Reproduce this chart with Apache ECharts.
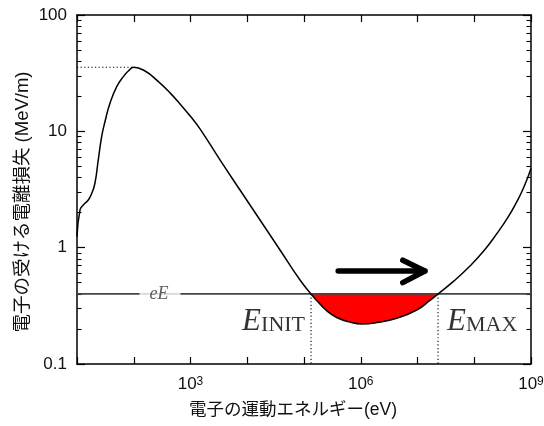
<!DOCTYPE html>
<html>
<head>
<meta charset="utf-8">
<script src="https://cdn.jsdelivr.net/npm/echarts@6/dist/echarts.min.js"></script>
<style>
  html, body { margin: 0; padding: 0; background: #fff; }
  #chart { width: 544px; height: 426px; }
</style>
</head>
<body>
<div id="chart"></div>
<script>
// Electron kinetic energy (eV) and the ionisation loss it suffers (MeV/m)
const energyEV = [10, 11.3, 12.9, 15.8, 18.2, 20.7, 23.7, 27.2, 31.1, 38.1, 50.1, 65.5, 80.2, 100,
  158, 257, 436, 653, 980, 1470, 3310, 7450, 16800, 37800, 85100, 1.33e5, 1.67e5, 2.51e5, 3.77e5,
  6.47e5, 1.04e6, 1.91e6, 4.3e6, 9.69e6, 1.66e7, 2.3e7, 4.4e7, 8.4e7, 1.49e8, 2.5e8, 3.94e8,
  5.66e8, 7.5e8, 1e9];
const lossMeVm = [1.24, 2.11, 2.33, 2.57, 2.94, 3.58, 5.68, 9.0, 12.1, 17.4, 24.2, 29.5, 33.0, 35.6,
  33.0, 27.4, 21.4, 17.2, 13.6, 10.5, 5.68, 3.13, 1.73, 0.955, 0.527, 0.40, 0.352, 0.287, 0.251,
  0.229, 0.221, 0.227, 0.247, 0.291, 0.352, 0.40, 0.518, 0.696, 0.944, 1.32, 1.83,
  2.50, 3.32, 4.8];

// Energy gained from the field per metre (eE) and the two crossing energies
const fieldGain = 0.4;
const eInit = 1.33e5;
const eMax = 2.3e7;

// Peak of the loss curve
const peakEnergy = 100;
const peakLoss = 35.6;

// Axis ticks and labels
const xTickValues = [10, 100, 1e3, 1e4, 1e5, 1e6, 1e7, 1e8, 1e9];
const xLabelValues = [1e3, 1e6, 1e9];
const yMajorValues = [0.1, 1, 10, 100];
const yMinorSteps = [2, 3, 4, 5, 6, 7, 8, 9];

// Arrow showing the direction of acceleration (energy, loss)
const arrowTail = [4.0e5, 0.63];
const arrowTip = [1.35e7, 0.63];
const arrowArmUp = [5.5e6, 0.78];
const arrowArmDown = [5.5e6, 0.50];

const yMinorValues = [];
yMajorValues.slice(0, -1).forEach(d => yMinorSteps.forEach(m => yMinorValues.push(+(d * m).toPrecision(3))));

const curve = energyEV.map((e, i) => [e, lossMeVm[i]]);
const band = curve.filter(p => p[0] >= eInit && p[0] <= eMax);

const xMin = 10, xMax = 1e9, yMin = 0.1, yMax = 100;
const smoothness = 0.5;
const sans = "'Liberation Sans', 'Noto Sans CJK JP', sans-serif";
const serif = "'Liberation Serif', 'DejaVu Serif', serif";
const frame = { show: true, onZero: false, lineStyle: { color: '#000', width: 1.5 } };
const dotted = { color: '#000', width: 1.1, type: [1.2, 2.4] };

function logAxis(extra) {
  return Object.assign({ type: 'log', logBase: 10, splitLine: { show: false }, axisLine: frame }, extra);
}

const chart = echarts.init(document.getElementById('chart'), null, { renderer: 'canvas' });
chart.setOption({
  animation: false,
  backgroundColor: '#fff',
  grid: { left: 77, right: 13, top: 15, bottom: 62, containLabel: false, outerBoundsMode: 'none' },
  xAxis: [
    logAxis({
      position: 'bottom', min: xMin, max: xMax,
      name: '電子の運動エネルギー(eV)', nameLocation: 'middle', nameGap: 37, nameMoveOverlap: false,
      nameTextStyle: { fontFamily: sans, fontSize: 17.5, color: '#111', padding: [0, 22, 0, 0] },
      axisTick: { inside: true, length: 7, customValues: xTickValues, lineStyle: { color: '#000', width: 1.2 } },
      axisLabel: {
        customValues: xLabelValues, margin: 12,
        formatter: v => '{b|10}{s|' + Math.round(Math.log10(v)) + '}',
        rich: {
          b: { fontFamily: sans, fontSize: 17, color: '#111', verticalAlign: 'bottom' },
          s: { fontFamily: sans, fontSize: 12, color: '#111', verticalAlign: 'top' }
        }
      }
    }),
    logAxis({
      position: 'top', min: xMin, max: xMax,
      axisTick: { inside: true, length: 7, customValues: xTickValues, lineStyle: { color: '#000', width: 1.2 } },
      axisLabel: { show: false }
    })
  ],
  yAxis: [
    logAxis({
      position: 'left', min: yMin, max: yMax,
      name: '電子の受ける電離損失 (MeV/m)', nameLocation: 'middle', nameGap: 45, nameMoveOverlap: false,
      nameTextStyle: { fontFamily: sans, fontSize: 18.5, color: '#111', padding: [0, 25, 0, 0] },
      axisTick: { inside: true, length: 8, customValues: yMajorValues, lineStyle: { color: '#000', width: 1.2 } },
      axisLabel: {
        customValues: yMajorValues, margin: 10,
        fontFamily: sans, fontSize: 17, color: '#111',
        formatter: v => String(v)
      }
    }),
    logAxis({
      position: 'left', min: yMin, max: yMax, axisLine: { show: false },
      axisTick: { inside: true, length: 4.5, customValues: yMinorValues, lineStyle: { color: '#000', width: 1.1 } },
      axisLabel: { show: false }
    }),
    logAxis({
      position: 'right', min: yMin, max: yMax,
      axisTick: { inside: true, length: 8, customValues: yMajorValues, lineStyle: { color: '#000', width: 1.2 } },
      axisLabel: { show: false }
    }),
    logAxis({
      position: 'right', min: yMin, max: yMax, axisLine: { show: false },
      axisTick: { inside: true, length: 4.5, customValues: yMinorValues, lineStyle: { color: '#000', width: 1.1 } },
      axisLabel: { show: false }
    })
  ],
  series: [
    // red band between the loss curve and eE
    {
      type: 'line', data: band, smooth: smoothness, symbol: 'none', silent: true,
      lineStyle: { width: 0, opacity: 0 },
      areaStyle: { color: '#ff0000', opacity: 1, origin: fieldGain }, z: 1
    },
    // eE level
    {
      type: 'line', data: [[xMin, fieldGain], [xMax, fieldGain]], symbol: 'none', silent: true,
      lineStyle: { color: '#444', width: 1.8 }, z: 2
    },
    // dotted guides
    { type: 'line', data: [[xMin, peakLoss], [peakEnergy, peakLoss]], symbol: 'none', silent: true, lineStyle: dotted, z: 2 },
    { type: 'line', data: [[eInit, fieldGain], [eInit, yMin]], symbol: 'none', silent: true, lineStyle: dotted, z: 2 },
    { type: 'line', data: [[eMax, fieldGain], [eMax, yMin]], symbol: 'none', silent: true, lineStyle: dotted, z: 2 },
    // loss curve
    {
      type: 'line', data: curve, smooth: smoothness, symbol: 'none', silent: true,
      lineStyle: { color: '#000', width: 1.5 }, z: 4
    },
    // arrow
    {
      type: 'line', data: [arrowTail, arrowTip], symbol: 'none', silent: true,
      lineStyle: { color: '#000', width: 5.5, cap: 'round', join: 'round' }, z: 4
    },
    {
      type: 'line', data: [arrowArmUp, arrowTip, arrowArmDown], symbol: 'none', silent: true,
      lineStyle: { color: '#000', width: 5.5, cap: 'round', join: 'round' }, z: 4
    },
    // text annotations
    {
      type: 'scatter', symbolSize: 0, silent: true, z: 6,
      data: [
        { value: [290, fieldGain], label: { position: 'inside', formatter: '{i|eE}', backgroundColor: '#fff', padding: [3, 12, 3, 10] } },
        { value: [eInit, 0.23], label: { position: 'left', distance: 6, formatter: '{e|E}{s|INIT}' } },
        { value: [eMax, 0.23], label: { position: 'right', distance: 9, formatter: '{e|E}{s|MAX}' } }
      ],
      label: {
        show: true,
        rich: {
          i: { fontFamily: serif, fontStyle: 'italic', fontSize: 18, color: '#333' },
          e: { fontFamily: serif, fontStyle: 'italic', fontSize: 31, color: '#000', verticalAlign: 'bottom' },
          s: { fontFamily: serif, fontSize: 22, color: '#000', verticalAlign: 'bottom', padding: [0, 0, 1, 0] }
        }
      }
    }
  ]
});
</script>
</body>
</html>
